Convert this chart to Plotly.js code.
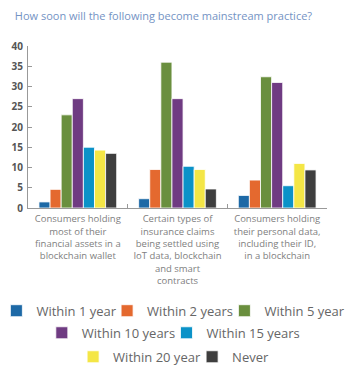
<!DOCTYPE html>
<html>
<head>
<meta charset="utf-8">
<script src="https://cdn.plot.ly/plotly-3.0.1.min.js"></script>
<style>html,body{margin:0;padding:0;background:#fff;}#chart{width:350px;height:387px;}</style>
</head>
<body>
<div id="chart"></div>
<script>
const categories = [
  "Consumers holding<br>most of their<br>financial assets in a<br>blockchain wallet",
  "Certain types of<br>insurance claims<br>being settled using<br>IoT data, blockchain<br>and smart<br>contracts",
  "Consumers holding<br>their personal data,<br>including their ID,<br>in a blockchain"
];
const seriesNames = ["Within 1 year", "Within 2 years", "Within 5 year", "Within 10 years", "Within 15 years", "Within 20 year", "Never"];
const within1 = [1.5, 2.3, 3.1];
const within2 = [4.6, 9.5, 6.9];
const within5 = [23, 36, 32.4];
const within10 = [27, 27, 31];
const within15 = [15, 10.3, 5.5];
const within20 = [14.3, 9.5, 11];
const never = [13.5, 4.7, 9.4];
const yTicks = [0, 5, 10, 15, 20, 25, 30, 35, 40];

const seriesValues = [within1, within2, within5, within10, within15, within20, never];
const colors = ["#1d69a6", "#e4692f", "#6a8f3e", "#6f3b82", "#0b92c8", "#f4e646", "#3e3e3e"];
const legendIds = ["legend", "legend2", "legend3", "legend4", "legend5", "legend6", "legend7"];
// legend entry placement (container fractions)
const legendX = [0.0211, 0.3374, 0.6726, 0.1509, 0.5071, 0.2403, 0.5803];
const legendY = [0.197, 0.197, 0.197, 0.140, 0.140, 0.078, 0.078];

const data = seriesValues.map((vals, i) => ({
  type: "bar",
  x: categories,
  y: vals,
  name: seriesNames[i],
  legend: legendIds[i],
  marker: {color: colors[i], line: {color: "rgba(255,255,255,0.8)", width: 1}},
  hoverinfo: "none"
}));

const layout = {
  width: 350,
  height: 387,
  margin: {l: 28, r: 23, t: 46, b: 179, pad: 0},
  paper_bgcolor: "#fff",
  plot_bgcolor: "#fff",
  barmode: "group",
  bargap: 0.22,
  bargroupgap: 0,
  title: {
    text: "How soon will the following become mainstream practice?",
    font: {family: "Open Sans", size: 11, color: "#7493c4"},
    x: 0.467, xanchor: "center", xref: "container",
    y: 0.958, yanchor: "middle", yref: "container"
  },
  xaxis: {
    type: "category",
    showline: true, linecolor: "#999", linewidth: 1,
    ticks: "inside", ticklen: 4, tickcolor: "#999", tickson: "boundaries",
    tickangle: 0,
    ticklabelstandoff: 2,
    tickfont: {family: "Open Sans", size: 9.5, color: "#808080"},
    showgrid: false, zeroline: false, fixedrange: true
  },
  yaxis: {
    range: [0, 40],
    tickvals: yTicks,
    ticktext: yTicks.map(String),
    showline: true, linecolor: "#999", linewidth: 1,
    ticks: "inside", ticklen: 4, tickcolor: "#999",
    ticklabelstandoff: 2,
    tickfont: {family: "Open Sans", size: 10, color: "#555", weight: "bold"},
    showgrid: false, zeroline: false, fixedrange: true
  },
  showlegend: true
};

legendIds.forEach((id, i) => {
  layout[id] = {
    orientation: "h",
    x: legendX[i], xanchor: "left", xref: "container",
    y: legendY[i], yanchor: "middle", yref: "container",
    font: {family: "Open Sans", size: 13, color: "#666"},
    bgcolor: "rgba(0,0,0,0)",
    itemwidth: 30,
    indentation: -11
  };
});

Plotly.newPlot("chart", data, layout, {displayModeBar: false, staticPlot: true});
</script>
</body>
</html>
